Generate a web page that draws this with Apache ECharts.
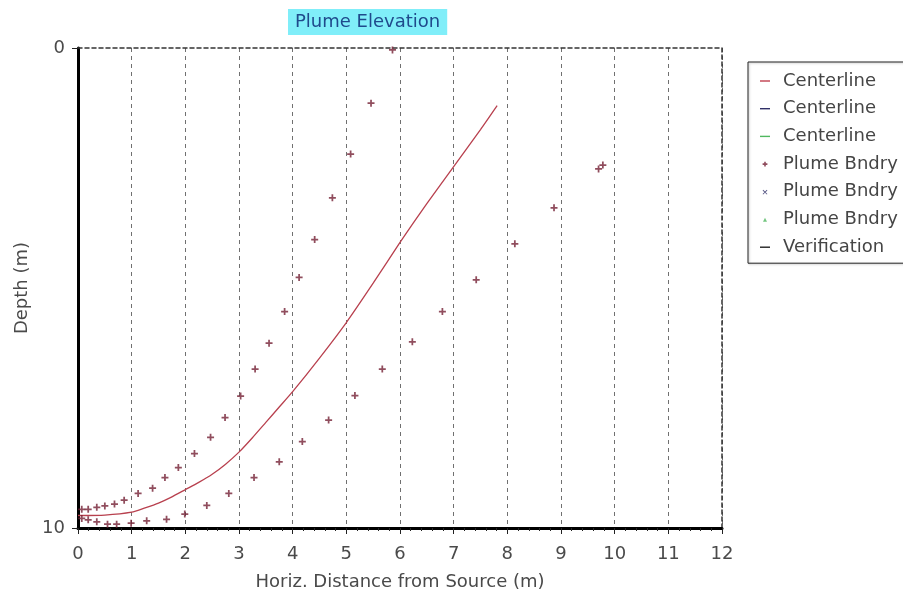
<!DOCTYPE html>
<html>
<head>
<meta charset="utf-8">
<script src="https://cdn.jsdelivr.net/npm/echarts@6/dist/echarts.min.js"></script>
<style>
  html, body { margin: 0; padding: 0; background: #fff; }
  #chart { width: 903px; height: 596px; }
</style>
</head>
<body>
<div id="chart"></div>
<script>
// centerline of the plume: [horiz. distance (m), depth (m)]
const centerline = [
  [0, 9.74], [0.5, 9.73], [1.0, 9.67], [1.25, 9.58], [1.5, 9.48], [1.75, 9.35],
  [2.0, 9.2], [2.25, 9.05], [2.5, 8.88], [2.75, 8.67], [3.0, 8.42], [3.25, 8.12],
  [3.5, 7.8], [3.75, 7.48], [4.0, 7.16], [4.5, 6.46], [5.0, 5.72], [5.5, 4.9],
  [6.0, 4.05], [6.5, 3.24], [7.0, 2.47], [7.5, 1.7], [7.81, 1.2]
];

// plume boundary, upper side
const upperBndry = [
  [0.07, 9.61], [0.19, 9.61], [0.35, 9.57], [0.50, 9.54], [0.68, 9.50], [0.86, 9.42],
  [1.12, 9.28], [1.39, 9.17], [1.62, 8.95], [1.87, 8.74], [2.17, 8.45], [2.47, 8.11],
  [2.74, 7.70], [3.03, 7.25], [3.30, 6.69], [3.56, 6.15], [3.85, 5.49], [4.12, 4.78],
  [4.41, 3.99], [4.74, 3.12], [5.08, 2.21], [5.46, 1.15], [5.86, 0.04]
];

// plume boundary, lower side
const lowerBndry = [
  [0.07, 9.80], [0.19, 9.83], [0.35, 9.87], [0.55, 9.92], [0.72, 9.92], [0.99, 9.90],
  [1.28, 9.85], [1.65, 9.82], [1.99, 9.71], [2.40, 9.53], [2.81, 9.28], [3.28, 8.95],
  [3.75, 8.62], [4.18, 8.20], [4.67, 7.75], [5.16, 7.24], [5.67, 6.69], [6.23, 6.12],
  [6.79, 5.49], [7.42, 4.83], [8.14, 4.08], [8.87, 3.33], [9.70, 2.52], [9.78, 2.44]
];

// the other series of the run carry no points
const centerline2 = [];
const centerline3 = [];
const bndry2 = [];
const bndry3 = [];
const verification = [];

const xTicks = [0, 12];
const yTicks = [0, 10];

const FONT = 'DejaVu Sans';
const ZW = '\u200b'; // keeps same-named legend entries apart

// legend icons, all in a 16x10 box
const ICON_LINE = 'path://M0,0M3,4.3L13,4.3L13,5.7L3,5.7ZM16,10';
const ICON_PLUS = 'path://M0,0M7.2,2.6L8.8,2.6L8.8,4.2L10.4,4.2L10.4,5.8L8.8,5.8L8.8,7.4L7.2,7.4L7.2,5.8L5.6,5.8L5.6,4.2L7.2,4.2ZM16,10';
const ICON_X = 'path://M0,0M5.6,3.6L6.2,3L8,4.8L9.8,3L10.4,3.6L8.6,5.4L10.4,7.2L9.8,7.8L8,6L6.2,7.8L5.6,7.2L7.4,5.4ZM16,10';
const ICON_TRI = 'path://M0,0M8,3.2L10,7.2L6,7.2ZM16,10';
const MARK_PLUS = 'path://M3,0L5,0L5,3L8,3L8,5L5,5L5,8L3,8L3,5L0,5L0,3L3,3Z';

const chart = echarts.init(document.getElementById('chart'), null, { renderer: 'canvas' });

const labelStyle = { fontFamily: FONT, fontSize: 18, color: '#4a4a4a' };

chart.setOption({
  animation: false,
  backgroundColor: '#fff',
  title: {
    text: 'Plume Elevation',
    left: 288,
    top: 9,
    padding: [4, 7],
    backgroundColor: '#80eef9',
    textStyle: { fontFamily: FONT, fontSize: 18, fontWeight: 'normal', color: '#1f4a8c' }
  },
  legend: {
    orient: 'vertical',
    left: 748,
    top: 62,
    padding: [10, 30, 7, 9],
    itemWidth: 16,
    itemHeight: 10,
    itemGap: 9.7,
    borderColor: '#222',
    borderWidth: 1,
    shadowColor: 'rgba(0,0,0,0.25)',
    shadowOffsetX: 1,
    shadowOffsetY: 1,
    shadowBlur: 2,
    textStyle: { fontFamily: FONT, fontSize: 18, lineHeight: 18, color: '#454545', padding: [0, 0, 0, 5] },
    data: [
      { name: 'Centerline', icon: ICON_LINE },
      { name: 'Centerline' + ZW, icon: ICON_LINE },
      { name: 'Centerline' + ZW + ZW, icon: ICON_LINE },
      { name: 'Plume Bndry', icon: ICON_PLUS },
      { name: 'Plume Bndry' + ZW, icon: ICON_X },
      { name: 'Plume Bndry' + ZW + ZW, icon: ICON_TRI },
      { name: 'Verification', icon: ICON_LINE }
    ]
  },
  grid: { left: 78, right: 181, top: 48, bottom: 68, outerBoundsMode: 'none' },
  xAxis: [
    {
      type: 'value',
      min: xTicks[0],
      max: xTicks[1],
      interval: 1,
      name: 'Horiz. Distance from Source (m)',
      nameLocation: 'middle',
      nameGap: 45,
      nameTextStyle: labelStyle,
      axisLine: { show: true, onZero: false, lineStyle: { color: '#000', width: 3 } },
      axisTick: { show: true, length: 6, lineStyle: { color: '#222', width: 1 } },
      minorTick: { show: true, splitNumber: 5, length: 3, lineStyle: { color: '#222' } },
      axisLabel: Object.assign({ margin: 17 }, labelStyle),
      splitLine: { show: true, lineStyle: { color: '#707070', type: [4, 4], width: 1 } }
    },
    {
      type: 'value',
      position: 'top',
      min: xTicks[0],
      max: xTicks[1],
      interval: 1,
      axisLine: { show: true, onZero: false, lineStyle: { color: '#333', width: 1.5, type: [4, 3] } },
      axisTick: { show: false },
      axisLabel: { show: false },
      splitLine: { show: false }
    }
  ],
  yAxis: [
    {
      type: 'value',
      inverse: true,
      min: yTicks[0],
      max: yTicks[1],
      interval: 10,
      name: 'Depth (m)',
      nameLocation: 'middle',
      nameGap: 41,
      nameRotate: 90,
      nameTextStyle: labelStyle,
      axisLine: { show: true, onZero: false, lineStyle: { color: '#000', width: 3 } },
      axisTick: { show: true, length: 6, lineStyle: { color: '#222' } },
      axisLabel: Object.assign({ margin: 13 }, labelStyle),
      splitLine: { show: false }
    },
    {
      type: 'value',
      position: 'right',
      inverse: true,
      min: yTicks[0],
      max: yTicks[1],
      interval: 10,
      axisLine: { show: true, onZero: false, lineStyle: { color: '#333', width: 1.5, type: [4, 3] } },
      axisTick: { show: false },
      axisLabel: { show: false },
      splitLine: { show: false }
    }
  ],
  series: [
    {
      name: 'Centerline', type: 'line', data: centerline, showSymbol: false, smooth: 0.2,
      lineStyle: { color: '#b8404e', width: 1.3 }, itemStyle: { color: '#c0404e' }, z: 3
    },
    { name: 'Centerline' + ZW, type: 'line', data: centerline2, showSymbol: false, itemStyle: { color: '#303068' } },
    { name: 'Centerline' + ZW + ZW, type: 'line', data: centerline3, showSymbol: false, itemStyle: { color: '#50b860' } },
    {
      name: 'Plume Bndry', type: 'scatter', data: upperBndry.concat(lowerBndry),
      symbol: MARK_PLUS, symbolSize: 7, itemStyle: { color: '#742035' }, z: 4
    },
    { name: 'Plume Bndry' + ZW, type: 'scatter', data: bndry2, itemStyle: { color: '#303068' } },
    { name: 'Plume Bndry' + ZW + ZW, type: 'scatter', data: bndry3, itemStyle: { color: '#50b860' } },
    { name: 'Verification', type: 'line', data: verification, showSymbol: false, itemStyle: { color: '#222' } }
  ]
});
</script>
</body>
</html>
